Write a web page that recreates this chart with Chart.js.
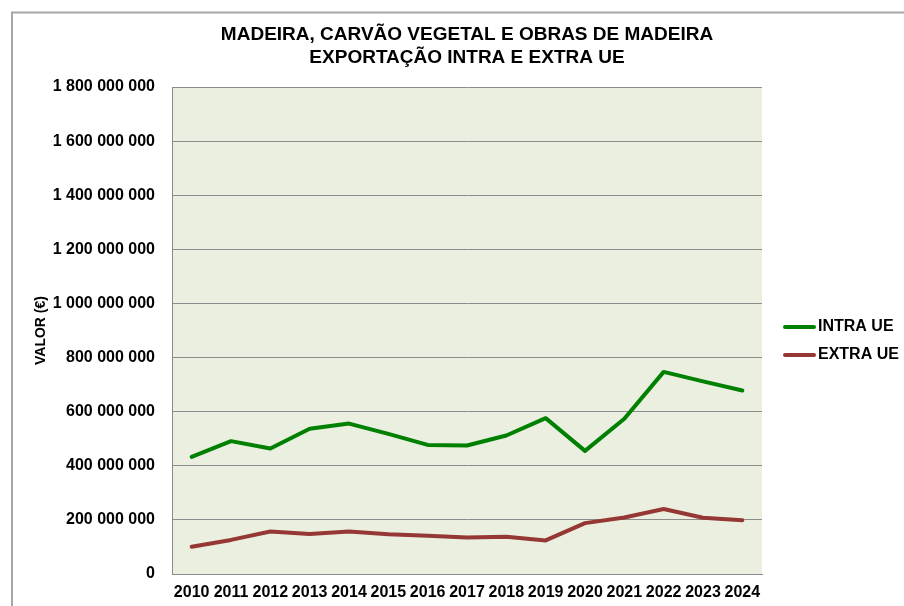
<!DOCTYPE html>
<html>
<head>
<meta charset="utf-8">
<script src="https://cdn.jsdelivr.net/npm/chart.js@4/dist/chart.umd.min.js"></script>
<style>
  html, body { margin: 0; padding: 0; background: #ffffff; }
  #wrap { position: relative; width: 904px; height: 606px; }
</style>
</head>
<body>
<div id="wrap"><canvas id="c" width="904" height="606"></canvas></div>
<script>
const years = ["2010","2011","2012","2013","2014","2015","2016","2017","2018","2019","2020","2021","2022","2023","2024"];
const intraUE = [433000000, 491000000, 464000000, 537000000, 556000000, 518000000, 477000000, 475000000, 512000000, 576000000, 455000000, 574000000, 747000000, 712000000, 678000000];
const extraUE = [101000000, 126000000, 157000000, 148000000, 157000000, 147000000, 141000000, 135000000, 138000000, 124000000, 188000000, 209000000, 240000000, 208000000, 199000000];
const seriesNames = ["INTRA UE", "EXTRA UE"];
const titleLines = ["MADEIRA, CARVÃO VEGETAL E OBRAS DE MADEIRA", "EXPORTAÇÃO INTRA E EXTRA UE"];
const yAxisTitle = "VALOR (€)";

const FONT = "'Liberation Sans', Arial, sans-serif";

const bgPlugin = {
  id: 'bg',
  beforeDraw(chart) {
    const ctx = chart.ctx;
    const a = chart.chartArea;
    ctx.save();
    ctx.strokeStyle = '#a6a6a6';
    ctx.lineWidth = 2;
    ctx.strokeRect(12, 12.5, 1000, 1000);
    ctx.fillStyle = '#ebefdf';
    ctx.fillRect(a.left, a.top, a.right - a.left, a.bottom - a.top);
    ctx.restore();
  }
};

const legendPlugin = {
  id: 'customLegend',
  afterDraw(chart) {
    const ctx = chart.ctx;
    ctx.save();
    chart.data.datasets.forEach((ds, i) => {
      const y = 327 + i * 28;
      ctx.strokeStyle = ds.borderColor;
      ctx.lineWidth = 4;
      ctx.lineCap = 'round';
      ctx.beginPath();
      ctx.moveTo(785, y);
      ctx.lineTo(814, y);
      ctx.stroke();
      ctx.fillStyle = '#000';
      ctx.font = "bold 16px " + FONT;
      ctx.textBaseline = 'middle';
      ctx.textAlign = 'left';
      ctx.fillText(ds.label, 818, y);
    });
    ctx.restore();
  }
};

new Chart(document.getElementById('c'), {
  type: 'line',
  data: {
    labels: years,
    datasets: [
      { label: seriesNames[0], data: intraUE, borderColor: '#008000', backgroundColor: '#008000', borderWidth: 4, pointRadius: 0, tension: 0, borderCapStyle: 'round', borderJoinStyle: 'round' },
      { label: seriesNames[1], data: extraUE, borderColor: '#953735', backgroundColor: '#953735', borderWidth: 4, pointRadius: 0, tension: 0, borderCapStyle: 'round', borderJoinStyle: 'round' }
    ]
  },
  options: {
    responsive: false,
    animation: false,
    layout: { padding: { left: 30, right: 142, top: 0, bottom: 0 } },
    plugins: {
      legend: { display: false },
      tooltip: { enabled: false },
      title: {
        display: true,
        text: titleLines,
        color: '#000',
        font: { family: FONT, size: 19, weight: 'bold', lineHeight: 23/19 },
        padding: { top: 23.5, bottom: 17.5 },
        fullSize: false
      }
    },
    scales: {
      x: {
        offset: true,
        grid: { display: false, drawTicks: false },
        border: { display: true, color: '#8c8c8c', width: 1 },
        ticks: { color: '#000', font: { family: FONT, size: 16, weight: 'bold' }, padding: 9, maxRotation: 0, autoSkip: false },
        afterFit(scale) { scale.height = 32; }
      },
      y: {
        min: 0,
        max: 1800000000,
        grid: { color: '#8c8c8c', lineWidth: 1, drawTicks: false },
        border: { display: true, color: '#8c8c8c', width: 1 },
        ticks: {
          stepSize: 200000000,
          color: '#000',
          padding: 17,
          font: { family: FONT, size: 16, weight: 'bold' },
          callback: (v) => String(v).replace(/\B(?=(\d{3})+(?!\d))/g, ' ')
        },
        title: {
          display: true,
          text: yAxisTitle,
          color: '#000',
          font: { family: FONT, size: 14, weight: 'bold' },
          padding: { top: 3, bottom: 0 }
        },
        afterFit(scale) { scale.width = 142; }
      }
    }
  },
  plugins: [bgPlugin, legendPlugin]
});
</script>
</body>
</html>
